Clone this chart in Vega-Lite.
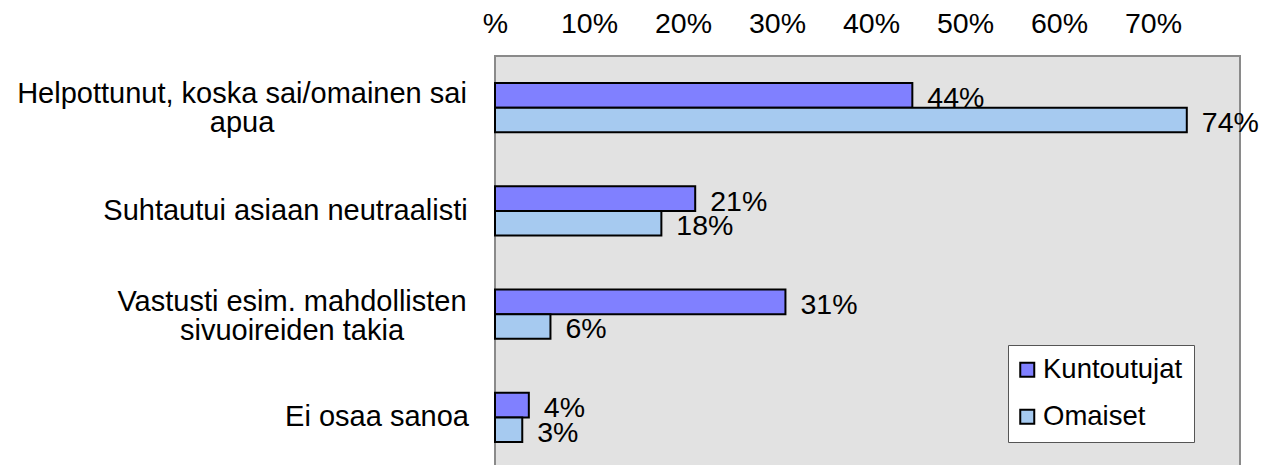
{
  "$schema": "https://vega.github.io/schema/vega-lite/v6.json",
  "autosize": {"type": "none"},
  "padding": {"left": 495, "top": 56, "right": 29, "bottom": 0},
  "width": 745,
  "height": 413,
  "background": "white",
  "config": {
    "font": "Liberation Sans",
    "view": {"fill": "#e2e2e2", "stroke": "#8a8a8a", "strokeWidth": 2}
  },
  "data": {
    "values": [
      {"kategoria": "Helpottunut, koska sai/omainen sai apua", "ryhma": "Kuntoutujat", "osuus": 0.444},
      {"kategoria": "Helpottunut, koska sai/omainen sai apua", "ryhma": "Omaiset", "osuus": 0.736},
      {"kategoria": "Suhtautui asiaan neutraalisti", "ryhma": "Kuntoutujat", "osuus": 0.213},
      {"kategoria": "Suhtautui asiaan neutraalisti", "ryhma": "Omaiset", "osuus": 0.177},
      {"kategoria": "Vastusti esim. mahdollisten sivuoireiden takia", "ryhma": "Kuntoutujat", "osuus": 0.309},
      {"kategoria": "Vastusti esim. mahdollisten sivuoireiden takia", "ryhma": "Omaiset", "osuus": 0.059},
      {"kategoria": "Ei osaa sanoa", "ryhma": "Kuntoutujat", "osuus": 0.036},
      {"kategoria": "Ei osaa sanoa", "ryhma": "Omaiset", "osuus": 0.029}
    ]
  },
  "encoding": {
    "y": {
      "field": "kategoria",
      "type": "nominal",
      "sort": ["Helpottunut, koska sai/omainen sai apua", "Suhtautui asiaan neutraalisti", "Vastusti esim. mahdollisten sivuoireiden takia", "Ei osaa sanoa"],
      "scale": {"paddingInner": 0.525, "paddingOuter": 0.2625},
      "axis": {
        "title": null,
        "ticks": false,
        "domain": false,
        "labelFontSize": 29,
        "labelColor": "black",
        "labelAlign": "center",
        "labelBaseline": "middle",
        "labelLineHeight": 29,
        "labelLimit": 0,
        "labelOffset": {
          "condition": [
            {"test": "datum.value == 'Helpottunut, koska sai/omainen sai apua'", "value": -14},
            {"test": "datum.value == 'Vastusti esim. mahdollisten sivuoireiden takia'", "value": -12}
          ],
          "value": 0
        },
        "labelPadding": {
          "condition": [
            {"test": "datum.value == 'Helpottunut, koska sai/omainen sai apua'", "value": 253.5},
            {"test": "datum.value == 'Suhtautui asiaan neutraalisti'", "value": 210},
            {"test": "datum.value == 'Vastusti esim. mahdollisten sivuoireiden takia'", "value": 203.5}
          ],
          "value": 118.5
        },
        "labelExpr": "datum.value == 'Helpottunut, koska sai/omainen sai apua' ? ['Helpottunut, koska sai/omainen sai', 'apua'] : datum.value == 'Vastusti esim. mahdollisten sivuoireiden takia' ? ['Vastusti esim. mahdollisten', 'sivuoireiden takia'] : datum.label"
      }
    },
    "yOffset": {"field": "ryhma", "type": "nominal", "sort": ["Kuntoutujat", "Omaiset"]},
    "x": {
      "field": "osuus",
      "type": "quantitative",
      "scale": {"domain": [0, 0.7926], "nice": false},
      "axis": {
        "orient": "top",
        "title": null,
        "values": [0, 0.1, 0.2, 0.3, 0.4, 0.5, 0.6, 0.7],
        "labelExpr": "datum.value == 0 ? '%' : format(datum.value, '.0%')",
        "ticks": false,
        "domain": false,
        "grid": false,
        "labelFontSize": 28.5,
        "labelColor": "black",
        "labelPadding": 18,
        "labelFlush": false,
        "labelOverlap": false
      }
    }
  },
  "layer": [
    {
      "mark": {"type": "bar", "stroke": "black", "strokeWidth": 2},
      "encoding": {
        "color": {
          "field": "ryhma",
          "type": "nominal",
          "scale": {"domain": ["Kuntoutujat", "Omaiset"], "range": ["#8080ff", "#a6caf0"]},
          "legend": {
            "title": null,
            "orient": "none",
            "legendX": 513,
            "legendY": 289,
            "fillColor": "white",
            "strokeColor": "#555555",
            "padding": 11,
            "symbolType": "square",
            "symbolSize": 196,
            "symbolOffset": -5.5,
            "symbolStrokeColor": "black",
            "symbolStrokeWidth": 2,
            "symbolOpacity": 1,
            "labelFontSize": 27.5,
            "labelColor": "black",
            "labelOffset": 2,
            "rowPadding": 18
          }
        }
      }
    },
    {
      "mark": {"type": "text", "align": "left", "baseline": "middle", "dx": 15, "dy": 3, "fontSize": 28.5, "color": "black"},
      "encoding": {
        "text": {"field": "osuus", "type": "quantitative", "format": ".0%"}
      }
    }
  ]
}
